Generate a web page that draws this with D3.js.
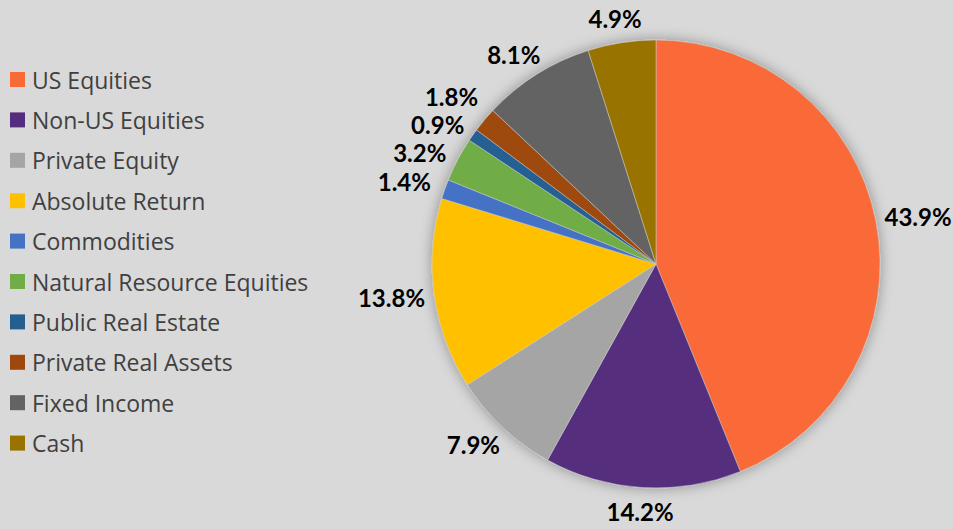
<!DOCTYPE html>
<html>
<head>
<meta charset="utf-8">
<script src="https://cdn.jsdelivr.net/npm/d3@7"></script>
<style>
  html, body { margin: 0; padding: 0; background: #d9d9d9; }
  svg { display: block; }
</style>
</head>
<body>
<div id="chart"></div>
<script>
// Chart data
var categories = ["US Equities", "Non-US Equities", "Private Equity", "Absolute Return", "Commodities",
  "Natural Resource Equities", "Public Real Estate", "Private Real Assets", "Fixed Income", "Cash"];
var values = [43.9, 14.2, 7.9, 13.8, 1.4, 3.2, 0.9, 1.8, 8.1, 4.9];
var colors = ["#F96A37", "#552D7E", "#A5A5A5", "#FFC000", "#4472C4",
  "#70AD47", "#255E91", "#9E480E", "#636363", "#997300"];

var width = 953, height = 529;
var cx = 656, cy = 264, radius = 224;

var svg = d3.select("#chart")
  .append("svg")
    .attr("width", width)
    .attr("height", height);

// soft shadow behind the pie
var defs = svg.append("defs");
var filter = defs.append("filter")
    .attr("id", "shadow")
    .attr("x", "-20%").attr("y", "-20%")
    .attr("width", "140%").attr("height", "140%");
filter.append("feDropShadow")
    .attr("dx", 0).attr("dy", 0)
    .attr("stdDeviation", 7)
    .attr("flood-color", "#000")
    .attr("flood-opacity", 0.35);

var data = categories.map(function (c, i) { return { name: c, value: values[i], color: colors[i] }; });

var pie = d3.pie()
    .value(function (d) { return d.value; })
    .sort(null);

var arc = d3.arc().innerRadius(0).outerRadius(radius);

var arcs = pie(data);

var g = svg.append("g")
    .attr("transform", "translate(" + cx + "," + cy + ")");

g.append("g")
    .attr("filter", "url(#shadow)")
  .selectAll("path")
  .data(arcs)
  .enter().append("path")
    .attr("d", arc)
    .attr("fill", function (d) { return d.data.color; })
    .attr("stroke", "#cfcfcf")
    .attr("stroke-width", 0.5);

// Label positions: outside the slice, then push apart the crowded ones
var labelR = radius + 10;
var labels = arcs.map(function (d) {
  var a = (d.startAngle + d.endAngle) / 2;
  return {
    d: d,
    x: Math.sin(a) * (labelR + 33),
    y: -Math.cos(a) * (labelR + 14)
  };
});

// simple vertical relaxation for labels on the left side (top part)
var left = labels.filter(function (l) { return l.x < 0 && l.y < 0; })
    .sort(function (a, b) { return a.y - b.y; });
var minGap = 28;
for (var iter = 0; iter < 50; iter++) {
  for (var i = 1; i < left.length; i++) {
    var diff = left[i].y - left[i - 1].y;
    if (diff < minGap) {
      var shift = (minGap - diff) / 2;
      left[i].y += shift;
      left[i - 1].y -= shift;
    }
  }
}

g.selectAll("text.lbl")
  .data(labels)
  .enter().append("text")
    .attr("class", "lbl")
    .attr("x", function (l) { return l.x; })
    .attr("y", function (l) { return l.y; })
    .attr("text-anchor", "middle")
    .attr("dominant-baseline", "central")
    .style("font-family", "Lato, 'Open Sans', sans-serif")
    .style("font-weight", "bold")
    .style("font-size", "24px")
    .style("fill", "#000")
    .text(function (l) { return l.d.data.value.toFixed(1) + "%"; });

// Legend
var legend = svg.append("g")
  .selectAll("g")
  .data(data)
  .enter().append("g")
    .attr("transform", function (d, i) { return "translate(10," + (79.5 + i * 40.4) + ")"; });

legend.append("rect")
    .attr("x", 0)
    .attr("y", -7.5)
    .attr("width", 15)
    .attr("height", 15)
    .attr("fill", function (d) { return d.color; });

legend.append("text")
    .attr("x", 22)
    .attr("y", 0)
    .attr("dominant-baseline", "central")
    .style("font-family", "'Open Sans', sans-serif")
    .style("font-size", "23px")
    .style("fill", "#404040")
    .text(function (d) { return d.name; });
</script>
</body>
</html>
